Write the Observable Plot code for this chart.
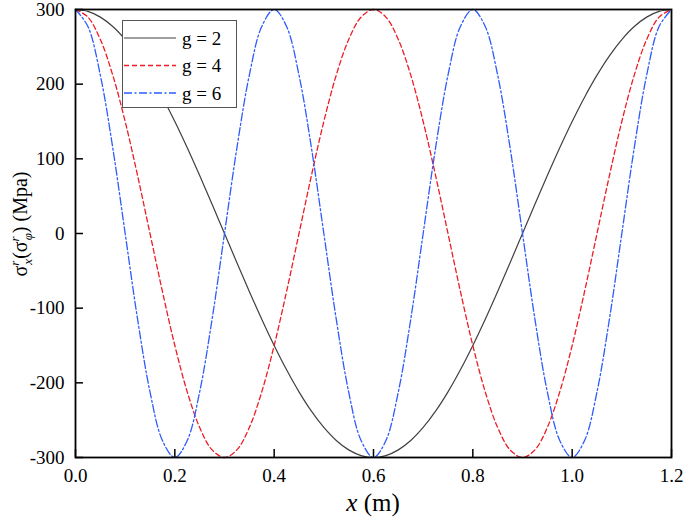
<!DOCTYPE html>
<html>
<head>
<meta charset="utf-8">
<script src="https://cdn.jsdelivr.net/npm/d3@7"></script>
<script src="https://cdn.jsdelivr.net/npm/@observablehq/plot@0.6"></script>
<style>
  html, body { margin: 0; padding: 0; background: white; }
  #chart { width: 685px; height: 523px; }
  #chart svg, #chart svg text, #chart svg tspan { font-family: "Liberation Serif", "DejaVu Serif", serif !important; }
</style>
</head>
<body>
<div id="chart"></div>
<script>
const xs = [0, 0.025, 0.05, 0.075, 0.1, 0.125, 0.15, 0.175, 0.2, 0.225, 0.25, 0.275, 0.3, 0.325, 0.35, 0.375, 0.4, 0.425, 0.45, 0.475, 0.5, 0.525, 0.55, 0.575, 0.6, 0.625, 0.65, 0.675, 0.7, 0.725, 0.75, 0.775, 0.8, 0.825, 0.85, 0.875, 0.9, 0.925, 0.95, 0.975, 1.0, 1.025, 1.05, 1.075, 1.1, 1.125, 1.15, 1.175, 1.2];
const g2 = [300, 297.4, 289.8, 277.2, 259.8, 238.0, 212.1, 182.6, 150.0, 114.8, 77.6, 39.2, 0, -39.2, -77.6, -114.8, -150.0, -182.6, -212.1, -238.0, -259.8, -277.2, -289.8, -297.4, -300, -297.4, -289.8, -277.2, -259.8, -238.0, -212.1, -182.6, -150.0, -114.8, -77.6, -39.2, 0, 39.2, 77.6, 114.8, 150.0, 182.6, 212.1, 238.0, 259.8, 277.2, 289.8, 297.4, 300];
const g4 = [300, 289.8, 259.8, 212.1, 150.0, 77.6, 0, -77.6, -150.0, -212.1, -259.8, -289.8, -300, -289.8, -259.8, -212.1, -150.0, -77.6, 0, 77.6, 150.0, 212.1, 259.8, 289.8, 300, 289.8, 259.8, 212.1, 150.0, 77.6, 0, -77.6, -150.0, -212.1, -259.8, -289.8, -300, -289.8, -259.8, -212.1, -150.0, -77.6, 0, 77.6, 150.0, 212.1, 259.8, 289.8, 300];
const g6 = [300, 277.2, 212.1, 114.8, 0, -114.8, -212.1, -277.2, -300, -277.2, -212.1, -114.8, 0, 114.8, 212.1, 277.2, 300, 277.2, 212.1, 114.8, 0, -114.8, -212.1, -277.2, -300, -277.2, -212.1, -114.8, 0, 114.8, 212.1, 277.2, 300, 277.2, 212.1, 114.8, 0, -114.8, -212.1, -277.2, -300, -277.2, -212.1, -114.8, 0, 114.8, 212.1, 277.2, 300];
const seriesNames = ["g = 2", "g = 4", "g = 6"];
const xTicks = [0, 0.2, 0.4, 0.6, 0.8, 1.0, 1.2];
const yTicks = [-300, -200, -100, 0, 100, 200, 300];

const colors = ["#404040", "#ee1c24", "#2d5bff"];
const dashes = [null, "5,3", "8,2.5,2,2.5"];
const widths = [1.2, 1.3, 1.3];
const FONT = "Liberation Serif, DejaVu Serif, serif";

const table = [];
[g2, g4, g6].forEach((arr, i) => arr.forEach((v, j) => table.push({x: xs[j], y: v, s: seriesNames[i]})));

const W = 685, H = 523, mL = 75, mR = 14, mT = 9, mB = 66;
const pw = W - mL - mR, ph = H - mT - mB;

const lineMarks = seriesNames.map((name, i) =>
  Plot.line(table.filter(d => d.s === name), {
    x: "x", y: "y", curve: "catmull-rom",
    stroke: colors[i], strokeWidth: widths[i], strokeDasharray: dashes[i]
  })
);

const chart = Plot.plot({
  width: W, height: H,
  marginLeft: mL, marginRight: mR, marginTop: mT, marginBottom: mB,
  x: {domain: [0, 1.2]},
  y: {domain: [-300, 300]},
  style: {fontFamily: FONT, fontSize: "19px", background: "white", color: "black"},
  marks: [
    ...lineMarks,
    Plot.axisX(xTicks, {tickSize: 0, tickPadding: 11, tickFormat: d => d.toFixed(1), label: null, fontSize: 19, fill: "black"}),
    Plot.axisY(yTicks, {tickSize: 0, tickPadding: 11, tickFormat: d => String(d), label: null, fontSize: 19, fill: "black"}),
    Plot.tickX(xTicks, {x: d => d, stroke: "black", strokeWidth: 1.5, insetTop: ph - 8}),
    Plot.tickY(yTicks, {y: d => d, stroke: "black", strokeWidth: 1.5, insetRight: pw - 8}),
    Plot.frame({stroke: "black", strokeWidth: 1.8})
  ]
});

document.getElementById("chart").appendChild(chart);

const svg = d3.select(chart);

// Legend
const lg = svg.append("g").attr("font-family", FONT).attr("text-anchor", "start");
lg.append("rect").attr("x", 122.5).attr("y", 20.5).attr("width", 114).attr("height", 87)
  .attr("fill", "white").attr("stroke", "#555").attr("stroke-width", 1);
seriesNames.forEach((name, i) => {
  const y = 38 + i * 27.5;
  lg.append("line").attr("x1", 124).attr("x2", 176).attr("y1", y).attr("y2", y)
    .attr("stroke", colors[i]).attr("stroke-width", widths[i])
    .attr("stroke-dasharray", dashes[i]);
  lg.append("text").attr("x", 182).attr("y", y + 6.5).attr("font-size", 19).attr("fill", "black")
    .attr("text-anchor", "start").text(name);
});

// X axis title
const xt = svg.append("text").attr("x", mL + pw / 2).attr("y", 511).attr("text-anchor", "middle")
  .attr("font-family", FONT).attr("font-size", 25).attr("fill", "black");
xt.append("tspan").attr("font-style", "italic").text("x");
xt.append("tspan").text(" (m)");

// Y axis title
const yt = svg.append("text").attr("transform", `translate(27,${224}) rotate(-90)`).attr("text-anchor", "middle")
  .attr("font-family", FONT).attr("font-size", 20).attr("fill", "black");
yt.append("tspan").text("σ");
yt.append("tspan").attr("font-style", "italic").attr("font-size", 13).attr("dy", -8).text("r");
yt.append("tspan").attr("font-style", "italic").attr("font-size", 13).attr("dx", -4).attr("dy", 13).text("x");
yt.append("tspan").attr("dy", -5).text("(σ");
yt.append("tspan").attr("font-style", "italic").attr("font-size", 13).attr("dy", -8).text("r");
yt.append("tspan").attr("font-style", "italic").attr("font-size", 13).attr("dx", -4).attr("dy", 13).text("φ");
yt.append("tspan").attr("dy", -5).text(") (Mpa)");
</script>
</body>
</html>
